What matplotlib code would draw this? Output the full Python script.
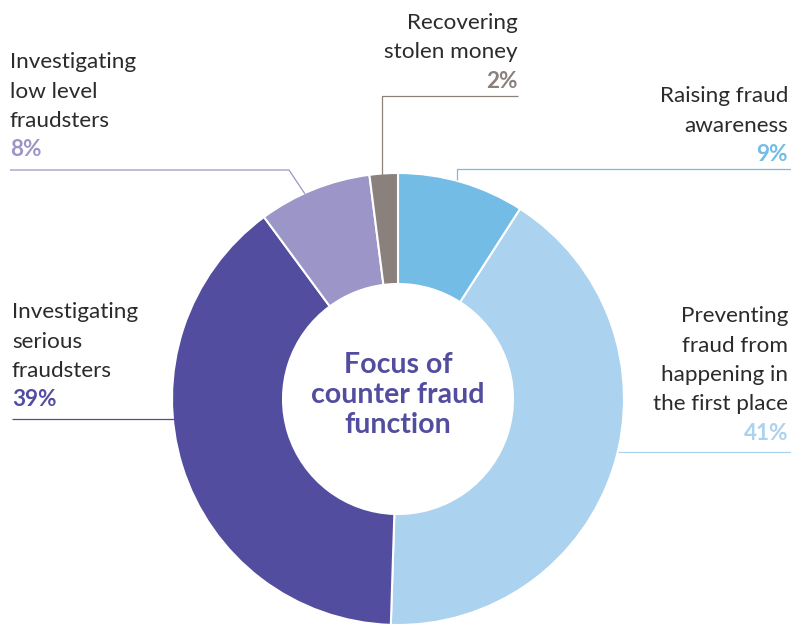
import matplotlib
matplotlib.use("Agg")
import matplotlib.pyplot as plt

# Data
categories = ["Raising fraud awareness", "Preventing fraud from happening in the first place",
              "Investigating serious fraudsters", "Investigating low level fraudsters",
              "Recovering stolen money"]
values = [9, 41, 39, 8, 2]
pct_labels = ["9%", "41%", "39%", "8%", "2%"]
label_lines = [["Raising fraud", "awareness"],
               ["Preventing", "fraud from", "happening in", "the first place"],
               ["Investigating", "serious", "fraudsters"],
               ["Investigating", "low level", "fraudsters"],
               ["Recovering", "stolen money"]]
colors = ["#72BCE6", "#ABD2EF", "#524D9F", "#9B95C8", "#8A817C"]
center_title = ["Focus of", "counter fraud", "function"]

W, H = 791, 626
fig = plt.figure(figsize=(W / 100, H / 100), dpi=100)
ax = fig.add_axes([0, 0, 1, 1])

cx, cy = 398, H - 399
R = 226
ax.pie(values, colors=colors, startangle=90, counterclock=False, radius=R,
       center=(cx, cy), wedgeprops=dict(width=111, edgecolor="white", linewidth=1.5))
ax.set_xlim(0, W)
ax.set_ylim(0, H)
ax.set_aspect("equal")
ax.axis("off")

FONT = "Lato"
TXT = "#2b2b2b"
FS = 16.2
LS = 29.5

def y(p):
    return H - p

def label(x, base, lines, pct, color, ha):
    for i, t in enumerate(lines):
        ax.text(x, y(base + i * LS), t, ha=ha, va="baseline", fontsize=FS,
                family=FONT, color=TXT)
    ax.text(x, y(base + len(lines) * LS), pct, ha=ha, va="baseline", fontsize=FS,
            family=FONT, color=color, fontweight="bold")

def line(xs, ys, color):
    ax.plot(xs, [y(v) for v in ys], color=color, lw=0.9, solid_capstyle="butt")

# Raising
label(788, 102, label_lines[0], pct_labels[0], colors[0], "right")
line([791, 456.5, 456.5], [169, 169, 180], colors[0])
# Preventing
label(788, 322, label_lines[1], pct_labels[1], colors[1], "right")
line([618, 791], [452, 452], colors[1])
# Serious
label(12, 318, label_lines[2], pct_labels[2], colors[2], "left")
line([12, 175], [419, 419], colors[2])
# Low level
label(10, 68, label_lines[3], pct_labels[3], colors[3], "left")
line([10, 289, 305], [170, 170, 194], colors[3])
# Recovering
label(518, 29, label_lines[4], pct_labels[4], colors[4], "right")
line([518, 382, 382], [96, 96, 175], colors[4])

# Center title
for i, t in enumerate(center_title):
    ax.text(cx, y(373 + i * 30), t, ha="center", va="baseline", fontsize=20.5,
            family=FONT, fontweight="bold", color=colors[2])

fig.savefig("out.png", dpi=100)
